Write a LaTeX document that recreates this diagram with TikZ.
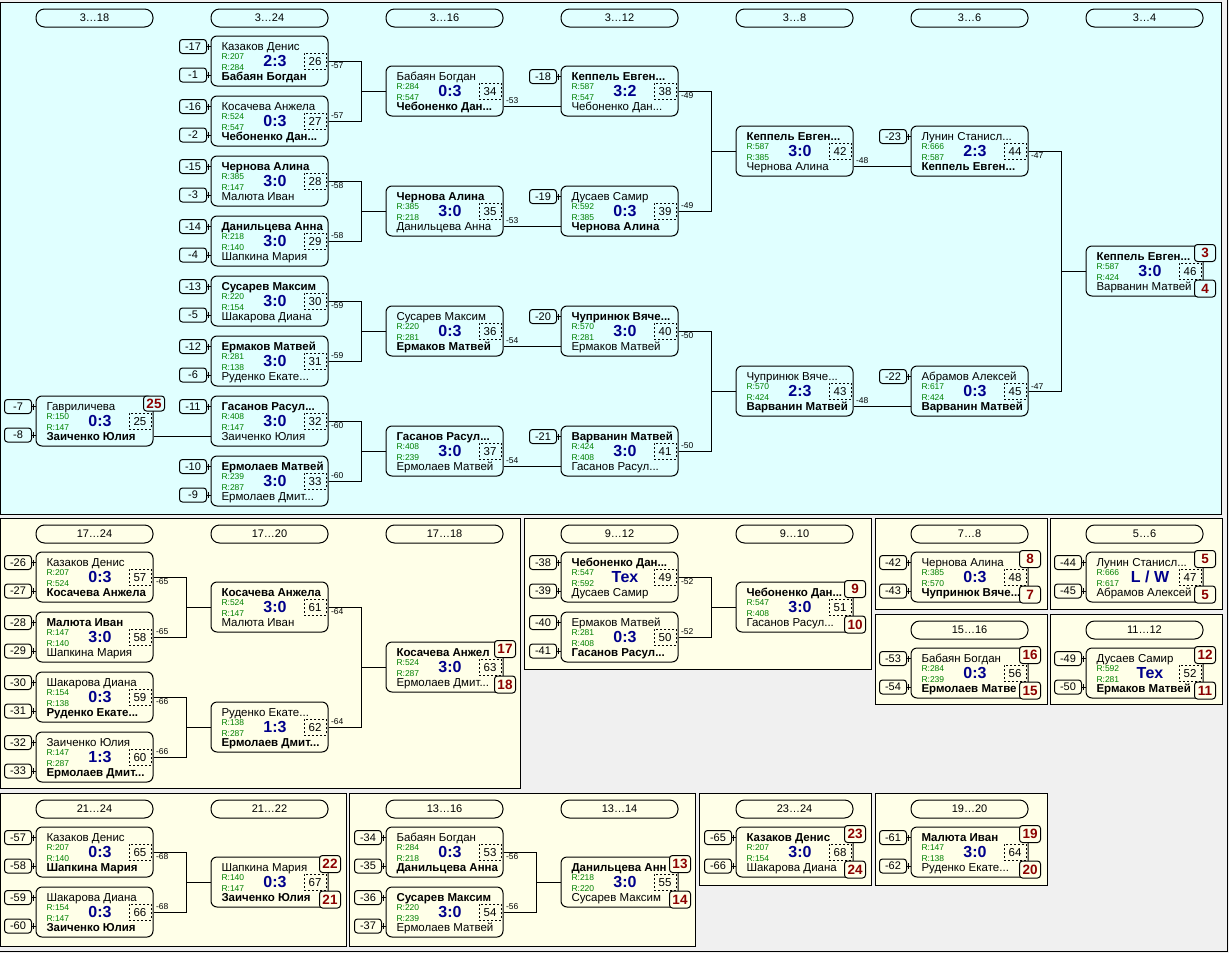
\documentclass[tikz,border=0pt]{standalone}
\usepackage{fontspec}
\setmainfont{Liberation Sans}
\definecolor{topbg}{RGB}{224,255,255}
\definecolor{lowbg}{RGB}{255,255,232}
\definecolor{backgr}{RGB}{240,240,240}
\definecolor{scoreblue}{RGB}{0,0,139}
\definecolor{rgreen}{RGB}{0,128,0}
\definecolor{placered}{RGB}{139,0,0}
% one match: number, x0, y0, top player, rating, score, rating, bottom player
\newcommand\duel[8]{%
  \node[mbox] (m#1) at (#2+58.5,#3+25) {};
  \node[nm] (m#1t) at (#2+10,#3+14) {#4};
  \node[rt] (m#1r) at (#2+10,#3+23.3) {R:#5};
  \node[sc] (m#1s) at (#2+64,#3+30.7) {#6};
  \node[rt] (m#1q) at (#2+10,#3+34.7) {R:#7};
  \node[nm] (m#1b) at (#2+10,#3+44.7) {#8};
  \node[mno] (m#1n) at (#2+104,#3+25.3) {#1};}
\newcommand\seedtop[2]{%
  \node[seedbox] (s#1a) at ([shift={(-17.5,-14.5)}]m#1.west) {#2};
  \draw (s#1a.east) -- (s#1a.east -| m#1.west);
  \draw ([xshift=1.5pt]s#1a.east) ++(0,-3) -- ++(0,6);}
\newcommand\seedpair[3]{%
  \seedtop{#1}{#2}
  \node[seedbox] (s#1b) at ([shift={(-17.5,14)}]m#1.west) {#3};
  \draw (s#1b.east) -- (s#1b.east -| m#1.west);
  \draw ([xshift=1.5pt]s#1b.east) ++(0,-3) -- ++(0,6);}
\newcommand\joinpair[4]{%
  \draw (m#1.east) -| ([xshift=-24pt]m#3.west) |- (m#2.east);
  \draw ([xshift=-24pt]m#3.west) -- (m#3.west);
  \node[lbl,anchor=north west] (l#1) at ([xshift=1.5pt,yshift=-1pt]m#1.east) {#4};
  \node[lbl,anchor=south west] (l#2) at ([xshift=1.5pt,yshift=1pt]m#2.east) {#4};}
\newcommand\joinslot[3]{%
  \draw ([yshift=-15pt]m#1.east) -- ([yshift=-15pt]m#2.west);
  \node[lbl,anchor=south west] (l#1) at ([xshift=1.5pt,yshift=-14pt]m#1.east) {#3};}
\newcommand\placebadges[4][lowbg]{%
  \node[place,fill=#1] (p#2a) at ([shift={(1.5,-18)}]m#2.east) {#3};
  \node[place,fill=#1] (p#2b) at ([shift={(1.5,17.5)}]m#2.east) {#4};}

\begin{document}
\begin{tikzpicture}[x=1pt,y=-1pt,line width=1pt,
  mbox/.style={draw,rounded corners=6pt,minimum width=117pt,minimum height=50pt,inner sep=0pt},
  nm/.style={inner sep=0pt,anchor=base west,font=\fontsize{11.5}{13}\selectfont},
  rt/.style={inner sep=0pt,anchor=base west,text=rgreen,font=\fontsize{8.5}{10}\selectfont},
  sc/.style={inner sep=0pt,anchor=base,text=scoreblue,font=\fontsize{16}{18}\selectfont\bfseries},
  mno/.style={draw,dash pattern=on 2pt off 2pt,minimum width=22pt,minimum height=16pt,inner sep=0pt,font=\fontsize{11.5}{13}\selectfont},
  seedbox/.style={draw,rounded corners=3pt,minimum width=27pt,minimum height=14pt,inner sep=0pt,font=\fontsize{11}{13}\selectfont},
  lbl/.style={inner sep=0.5pt,font=\fontsize{8.5}{10}\selectfont},
  pill/.style={draw,rounded corners=8.5pt,minimum width=117pt,minimum height=18pt,inner sep=0pt,font=\fontsize{11}{13}\selectfont},
  place/.style={draw,rounded corners=3pt,minimum width=21pt,minimum height=17pt,inner sep=0pt,text=placered,font=\fontsize{13.5}{15}\selectfont\bfseries}]
\useasboundingbox (0,0) rectangle (1229,953);
\fill[backgr] (0,0) rectangle (1229,953);
\draw (1227,0) -- (1227,951) -- (0,951);
% panels
\draw[fill=topbg] (0,2) rectangle (1221,514);
\draw[fill=lowbg] (0,518) rectangle (520,788);
\draw[fill=lowbg] (524,518) rectangle (871,669);
\draw[fill=lowbg] (875,518) rectangle (1047,609);
\draw[fill=lowbg] (1050,518) rectangle (1222,609);
\draw[fill=lowbg] (875,614) rectangle (1047,704);
\draw[fill=lowbg] (1050,614) rectangle (1222,704);
\draw[fill=lowbg] (0,793) rectangle (346,946);
\draw[fill=lowbg] (349,793) rectangle (695,946);
\draw[fill=lowbg] (699,793) rectangle (871,885);
\draw[fill=lowbg] (875,793) rectangle (1047,885);
% round headers
\node[pill] (h318) at (94.5,18) {3…18};
\node[pill] (h324) at (269.5,18) {3…24};
\node[pill] (h316) at (444.5,18) {3…16};
\node[pill] (h312) at (619.5,18) {3…12};
\node[pill] (h38) at (794.5,18) {3…8};
\node[pill] (h36) at (969.5,18) {3…6};
\node[pill] (h34) at (1144.5,18) {3…4};
\node[pill] (h1724) at (94.5,534) {17…24};
\node[pill] (h1720) at (269.5,534) {17…20};
\node[pill] (h1718) at (444.5,534) {17…18};
\node[pill] (h912) at (619.5,534) {9…12};
\node[pill] (h910) at (794.5,534) {9…10};
\node[pill] (h78) at (969.5,534) {7…8};
\node[pill] (h56) at (1144.5,534) {5…6};
\node[pill] (h1516) at (969.5,630) {15…16};
\node[pill] (h1112) at (1144.5,630) {11…12};
\node[pill] (h2124) at (94.5,809) {21…24};
\node[pill] (h2122) at (269.5,809) {21…22};
\node[pill] (h1316) at (444.5,809) {13…16};
\node[pill] (h1314) at (619.5,809) {13…14};
\node[pill] (h2324) at (794.5,809) {23…24};
\node[pill] (h1920) at (969.5,809) {19…20};
% places 3..24
\duel{25}{36}{396}{Гавриличева}{150}{0:3}{147}{\textbf{Заиченко Юлия}}
\duel{26}{211}{36}{Казаков Денис}{207}{2:3}{284}{\textbf{Бабаян Богдан}}
\duel{27}{211}{96}{Косачева Анжела}{524}{0:3}{547}{\textbf{Чебоненко Дан...}}
\duel{28}{211}{156}{\textbf{Чернова Алина}}{385}{3:0}{147}{Малюта Иван}
\duel{29}{211}{216}{\textbf{Данильцева Анна}}{218}{3:0}{140}{Шапкина Мария}
\duel{30}{211}{276}{\textbf{Сусарев Максим}}{220}{3:0}{154}{Шакарова Диана}
\duel{31}{211}{336}{\textbf{Ермаков Матвей}}{281}{3:0}{138}{Руденко Екате...}
\duel{32}{211}{396}{\textbf{Гасанов Расул...}}{408}{3:0}{147}{Заиченко Юлия}
\duel{33}{211}{456}{\textbf{Ермолаев Матвей}}{239}{3:0}{287}{Ермолаев Дмит...}
\duel{34}{386}{66}{Бабаян Богдан}{284}{0:3}{547}{\textbf{Чебоненко Дан...}}
\duel{35}{386}{186}{\textbf{Чернова Алина}}{385}{3:0}{218}{Данильцева Анна}
\duel{36}{386}{306}{Сусарев Максим}{220}{0:3}{281}{\textbf{Ермаков Матвей}}
\duel{37}{386}{426}{\textbf{Гасанов Расул...}}{408}{3:0}{239}{Ермолаев Матвей}
\duel{38}{561}{66}{\textbf{Кеппель Евген...}}{587}{3:2}{547}{Чебоненко Дан...}
\duel{39}{561}{186}{Дусаев Самир}{592}{0:3}{385}{\textbf{Чернова Алина}}
\duel{40}{561}{306}{\textbf{Чупринюк Вяче...}}{570}{3:0}{281}{Ермаков Матвей}
\duel{41}{561}{426}{\textbf{Варванин Матвей}}{424}{3:0}{408}{Гасанов Расул...}
\duel{42}{736}{126}{\textbf{Кеппель Евген...}}{587}{3:0}{385}{Чернова Алина}
\duel{43}{736}{366}{Чупринюк Вяче...}{570}{2:3}{424}{\textbf{Варванин Матвей}}
\duel{44}{911}{126}{Лунин Станисл...}{666}{2:3}{587}{\textbf{Кеппель Евген...}}
\duel{45}{911}{366}{Абрамов Алексей}{617}{0:3}{424}{\textbf{Варванин Матвей}}
\duel{46}{1086}{246}{\textbf{Кеппель Евген...}}{587}{3:0}{424}{Варванин Матвей}
\seedpair{25}{-7}{-8}
\seedpair{26}{-17}{-1}
\seedpair{27}{-16}{-2}
\seedpair{28}{-15}{-3}
\seedpair{29}{-14}{-4}
\seedpair{30}{-13}{-5}
\seedpair{31}{-12}{-6}
\seedtop{32}{-11}
\seedpair{33}{-10}{-9}
\seedtop{38}{-18}
\seedtop{39}{-19}
\seedtop{40}{-20}
\seedtop{41}{-21}
\seedtop{44}{-23}
\seedtop{45}{-22}
\draw ([yshift=-15pt]m25.east) -- ([yshift=-15pt]m32.west);
\joinpair{26}{27}{34}{-57}
\joinpair{28}{29}{35}{-58}
\joinpair{30}{31}{36}{-59}
\joinpair{32}{33}{37}{-60}
\joinslot{34}{38}{-53}
\joinslot{35}{39}{-53}
\joinslot{36}{40}{-54}
\joinslot{37}{41}{-54}
\joinpair{38}{39}{42}{-49}
\joinpair{40}{41}{43}{-50}
\joinslot{42}{44}{-48}
\joinslot{43}{45}{-48}
\joinpair{44}{45}{46}{-47}
\node[place,fill=topbg,minimum height=15pt] (p25a) at ([shift={(0.5,-17.5)}]m25.east) {25};
\placebadges[topbg]{46}{3}{4}
% places 17..24
\duel{57}{36}{552}{Казаков Денис}{207}{0:3}{524}{\textbf{Косачева Анжела}}
\duel{58}{36}{612}{\textbf{Малюта Иван}}{147}{3:0}{140}{Шапкина Мария}
\duel{59}{36}{672}{Шакарова Диана}{154}{0:3}{138}{\textbf{Руденко Екате...}}
\duel{60}{36}{732}{Заиченко Юлия}{147}{1:3}{287}{\textbf{Ермолаев Дмит...}}
\duel{61}{211}{582}{\textbf{Косачева Анжела}}{524}{3:0}{147}{Малюта Иван}
\duel{62}{211}{702}{Руденко Екате...}{138}{1:3}{287}{\textbf{Ермолаев Дмит...}}
\duel{63}{386}{642}{\textbf{Косачева Анжел}}{524}{3:0}{287}{Ермолаев Дмит...}
\seedpair{57}{-26}{-27}
\seedpair{58}{-28}{-29}
\seedpair{59}{-30}{-31}
\seedpair{60}{-32}{-33}
\joinpair{57}{58}{61}{-65}
\joinpair{59}{60}{62}{-66}
\joinpair{61}{62}{63}{-64}
\placebadges{63}{17}{18}
% places 9..12
\duel{49}{561}{552}{\textbf{Чебоненко Дан...}}{547}{Тех}{592}{Дусаев Самир}
\duel{50}{561}{612}{Ермаков Матвей}{281}{0:3}{408}{\textbf{Гасанов Расул...}}
\duel{51}{736}{582}{\textbf{Чебоненко Дан...}}{547}{3:0}{408}{Гасанов Расул...}
\seedpair{49}{-38}{-39}
\seedpair{50}{-40}{-41}
\joinpair{49}{50}{51}{-52}
\placebadges{51}{9}{10}
% places 5..8, 11..12, 15..16
\duel{48}{911}{552}{Чернова Алина}{385}{0:3}{570}{\textbf{Чупринюк Вяче...}}
\duel{47}{1086}{552}{Лунин Станисл...}{666}{L / W}{617}{Абрамов Алексей}
\duel{56}{911}{648}{Бабаян Богдан}{284}{0:3}{239}{\textbf{Ермолаев Матве}}
\duel{52}{1086}{648}{Дусаев Самир}{592}{Тех}{281}{\textbf{Ермаков Матвей}}
\seedpair{48}{-42}{-43}
\seedpair{47}{-44}{-45}
\seedpair{56}{-53}{-54}
\seedpair{52}{-49}{-50}
\placebadges{48}{8}{7}
\placebadges{47}{5}{5}
\placebadges{56}{16}{15}
\placebadges{52}{12}{11}
% places 13..24
\duel{65}{36}{827}{Казаков Денис}{207}{0:3}{140}{\textbf{Шапкина Мария}}
\duel{66}{36}{887}{Шакарова Диана}{154}{0:3}{147}{\textbf{Заиченко Юлия}}
\duel{67}{211}{857}{Шапкина Мария}{140}{0:3}{147}{\textbf{Заиченко Юлия}}
\duel{53}{386}{827}{Бабаян Богдан}{284}{0:3}{218}{\textbf{Данильцева Анна}}
\duel{54}{386}{887}{\textbf{Сусарев Максим}}{220}{3:0}{239}{Ермолаев Матвей}
\duel{55}{561}{857}{\textbf{Данильцева Анн}}{218}{3:0}{220}{Сусарев Максим}
\duel{68}{736}{827}{\textbf{Казаков Денис}}{207}{3:0}{154}{Шакарова Диана}
\duel{64}{911}{827}{\textbf{Малюта Иван}}{147}{3:0}{138}{Руденко Екате...}
\seedpair{65}{-57}{-58}
\seedpair{66}{-59}{-60}
\seedpair{53}{-34}{-35}
\seedpair{54}{-36}{-37}
\seedpair{68}{-65}{-66}
\seedpair{64}{-61}{-62}
\joinpair{65}{66}{67}{-68}
\joinpair{53}{54}{55}{-56}
\placebadges{67}{22}{21}
\placebadges{55}{13}{14}
\placebadges{68}{23}{24}
\placebadges{64}{19}{20}
\end{tikzpicture}
\end{document}
